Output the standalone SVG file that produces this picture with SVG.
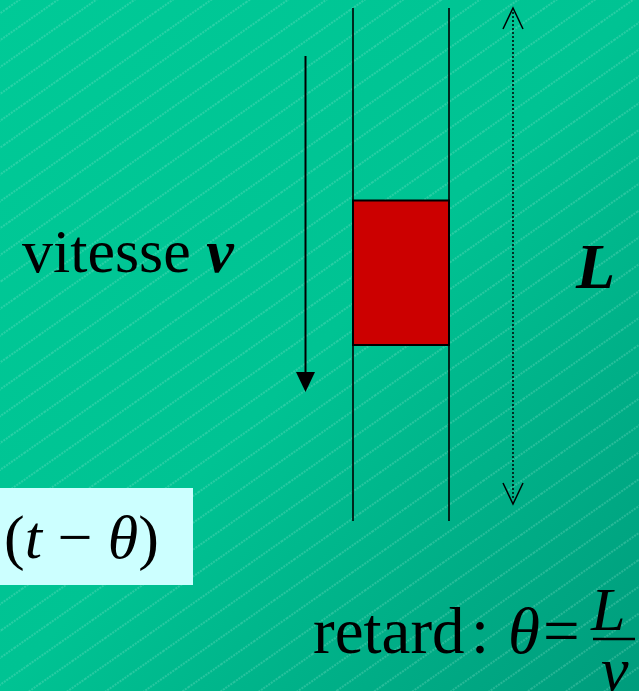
<svg xmlns="http://www.w3.org/2000/svg" width="639" height="691" viewBox="0 0 639 691">
<defs>
<linearGradient id="bg" x1="0" y1="0" x2="1" y2="1">
<stop offset="0" stop-color="#00CA97"/>
<stop offset="0.5" stop-color="#00C393"/>
<stop offset="1" stop-color="#009C7C"/>
</linearGradient>
<pattern id="hatch" width="40" height="22" patternUnits="userSpaceOnUse" patternTransform="rotate(-35)">
<line x1="0" y1="11" x2="40" y2="11" stroke="#9EEBD8" stroke-width="1" stroke-dasharray="2 1" opacity="0.5"/>
</pattern>
<style>
.t{font-family:"Liberation Serif","Times New Roman",serif;fill:#000}
.it{font-style:italic}
.bi{font-style:italic;font-weight:bold}
.ln{stroke:#000;stroke-width:1.6;fill:none}
</style>
</defs>
<rect width="639" height="691" fill="url(#bg)"/>
<rect width="639" height="691" fill="url(#hatch)"/>

<g id="tube">
<line class="ln" x1="353" y1="8" x2="353" y2="521"/>
<line class="ln" x1="449" y1="8" x2="449" y2="521"/>
</g>
<g id="plug">
<rect x="353" y="200.5" width="96" height="144.5" fill="#CC0000" stroke="#000" stroke-width="2"/>
</g>

<g id="connectors">
<g id="velocity-arrow">
<line x1="305.5" y1="56" x2="305.5" y2="375" stroke="#000" stroke-width="2"/>
<polygon points="296,372 315,372 305.5,392" fill="#000"/>
</g>
<g id="length-arrow">
<line x1="513" y1="12" x2="513" y2="500" stroke="#000" stroke-width="1.5" stroke-dasharray="2 2"/>
<polyline points="503,29 513,8 523,29" fill="none" stroke="#000" stroke-width="1.5"/>
<polyline points="503,483 513,504 523,483" fill="none" stroke="#000" stroke-width="1.5"/>
</g>
</g>

<g id="label-vitesse">
<text class="t" x="22" y="272" font-size="62">vitesse <tspan class="bi">v</tspan></text>
</g>
<g id="label-L">
<text class="t bi" x="576" y="288" font-size="64">L</text>
</g>

<g id="box-t-theta">
<rect x="0" y="488" width="193" height="97" fill="#CCFFFF"/>
<text class="t" x="4" y="558" font-size="62">(<tspan class="it">t</tspan> − <tspan class="it">θ</tspan>)</text>
</g>

<g id="label-retard">
<text class="t" x="313" y="653" font-size="65">retard</text>
<text class="t" x="471" y="653" font-size="65">:</text>
<text class="t it" x="508" y="653" font-size="65">θ</text>
<text class="t" x="543" y="653" font-size="65">=</text>
<text class="t it" x="591" y="630" font-size="62">L</text>
<line x1="593" y1="639" x2="635" y2="639" stroke="#000" stroke-width="2.5"/>
<text class="t it" x="601" y="690" font-size="62">v</text>
</g>
</svg>
